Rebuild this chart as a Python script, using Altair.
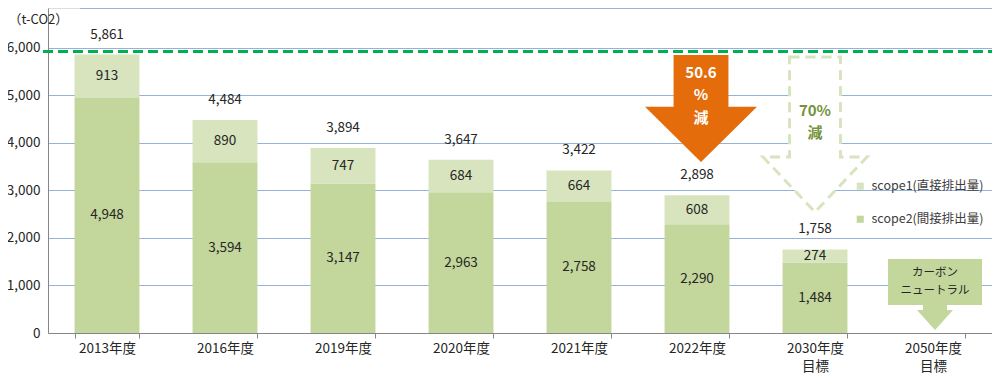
import altair as alt
import pandas as pd

# ---------------- data ----------------
categories = ["2013年度", "2016年度", "2019年度", "2020年度", "2021年度",
              "2022年度", "2030年度\n目標", "2050年度\n目標"]
scope1 = [913, 890, 747, 684, 664, 608, 274]
scope2 = [4948, 3594, 3147, 2963, 2758, 2290, 1484]
totals = [5861, 4484, 3894, 3647, 3422, 2898, 1758]
series_names = ["scope1(直接排出量)", "scope2(間接排出量)"]
series_colors = ["#d7e4bd", "#c3d69b"]
y_ticks = [0, 1000, 2000, 3000, 4000, 5000, 6000]
baseline_value = [5861]

# annotations (category, value of shape centre, value of first text line)
orange_arrow = {"cat": ["2022年度"], "y": [4726], "label": ["50.6\n%\n減"], "ly": [5474]}
dashed_arrow = {"cat": ["2030年度\n目標"], "y": [4179], "label": ["70%\n減"], "ly": [4674]}
callout = {"cat": ["2050年度\n目標"], "y": [811], "label": ["カーボン\nニュートラル"], "ly": [1263]}

FONT = "Noto Sans CJK JP"
GRID = "#95b3d7"
AXIS = "#868686"
W, H = 944, 325

rows = []
for c, s1, s2, t in zip(categories, scope1, scope2, totals):
    rows.append({"cat": c, "series": series_names[1], "lo": 0, "hi": s2, "mid": s2 / 2, "val": s2})
    rows.append({"cat": c, "series": series_names[0], "lo": s2, "hi": t, "mid": s2 + s1 / 2, "val": s1})
seg = pd.DataFrame(rows)
tot = pd.DataFrame({"cat": categories[:len(totals)], "total": totals})

xscale = alt.Scale(domain=categories, range=[0, W], paddingInner=0.45, paddingOuter=0.225)
yscale = alt.Scale(domain=[0, 6842], nice=False, zero=True)

X = alt.X("cat:N", scale=xscale, sort=categories,
          axis=alt.Axis(title=None, labelAngle=0, labelExpr="split(datum.label, '\\n')",
                        tickBand="extent", ticks=True, tickSize=5, tickColor=AXIS,
                        domainColor=AXIS, labelPadding=3, labelFontSize=13.5,
                        labelLineHeight=18, labelColor="#262626", labelFont=FONT, grid=False))

bars = alt.Chart(seg).mark_bar().encode(
    x=X,
    y=alt.Y("lo:Q", scale=yscale,
            axis=alt.Axis(values=y_ticks, format=",d", grid=True, gridColor=GRID,
                          ticks=False, domainColor=AXIS, labelPadding=8,
                          labelFontSize=13.5, labelColor="#262626", labelFont=FONT,
                          title="（t-CO2）", titleAngle=0, titleAlign="left",
                          titleBaseline="middle", titleX=-40, titleY=11,
                          titleFontSize=13, titleFontWeight="normal",
                          titleColor="#262626", titleFont=FONT)),
    y2="hi:Q",
    color=alt.Color("series:N",
                    scale=alt.Scale(domain=series_names, range=series_colors),
                    legend=alt.Legend(orient="none", legendX=806, legendY=172, title=None,
                                      symbolType="square", symbolSize=50,
                                      symbolStrokeWidth=0, labelFontSize=12.5,
                                      labelFont=FONT, labelColor="#404040",
                                      labelLimit=300, rowPadding=20, labelOffset=5)),
)

seg_text = alt.Chart(seg).mark_text(font=FONT, fontSize=13.5, color="#262626").encode(
    x=alt.X("cat:N", sort=categories), y="mid:Q", text=alt.Text("val:Q", format=",d"))

tot_text = alt.Chart(tot).mark_text(font=FONT, fontSize=13.5, color="#262626", dy=-20).encode(
    x=alt.X("cat:N", sort=categories), y="total:Q", text=alt.Text("total:Q", format=",d"))

top_rule = alt.Chart(pd.DataFrame({"k": [0]})).mark_rule(color=GRID, strokeWidth=1).encode(
    x=alt.value(32), x2=alt.value(W), y=alt.value(0.5))

base_line = alt.Chart(pd.DataFrame({"v": baseline_value})).mark_rule(
    color="#00b050", strokeWidth=3, strokeDash=[10, 5], yOffset=-3).encode(
    y="v:Q", x=alt.value(-5), x2=alt.value(W))

ORANGE_PATH = "M-0.49,-0.955L0.49,-0.955L0.49,-0.03L1,-0.03L0,0.955L-1,-0.03L-0.49,-0.03Z"
DASH_PATH = "M-0.329,-1L0.329,-1L0.329,0.29L0.671,0.29L0,1L-0.671,0.29L-0.329,0.29Z"
CALLOUT_PATH = ("M-1,-0.755L1,-0.755L1,0.223L0.255,0.223L0.255,0.33L0.383,0.33L0,0.755"
                "L-0.383,0.33L-0.255,0.33L-0.255,0.223L-1,0.223Z")

od = pd.DataFrame(orange_arrow)
dd = pd.DataFrame(dashed_arrow)
cd = pd.DataFrame(callout)

orange = alt.Chart(od).mark_point(shape=ORANGE_PATH, size=12544, filled=True,
                                  fill="#e46c0a", opacity=1, strokeWidth=0, xOffset=4).encode(
    x=alt.X("cat:N", sort=categories), y="y:Q")
orange_t = alt.Chart(od).mark_text(font=FONT, fontSize=15, fontWeight="bold", color="white",
                                   lineBreak="\n", lineHeight=22.5, xOffset=4).encode(
    x=alt.X("cat:N", sort=categories), y="ly:Q", text="label:N")

dashed = alt.Chart(dd).mark_point(shape=DASH_PATH, size=24025, filled=False, fill="white",
                                  fillOpacity=1, opacity=1, stroke="#d7e4bd", strokeWidth=3,
                                  strokeDash=[10, 6], xOffset=0).encode(
    x=alt.X("cat:N", sort=categories), y="y:Q")
dashed_t = alt.Chart(dd).mark_text(font=FONT, fontSize=15, fontWeight="bold", color="#76923c",
                                   lineBreak="\n", lineHeight=22).encode(
    x=alt.X("cat:N", sort=categories), y="ly:Q", text="label:N")

call = alt.Chart(cd).mark_point(shape=CALLOUT_PATH, size=8836, filled=True, fill="#c3d69b",
                                opacity=1, strokeWidth=0, xOffset=2).encode(
    x=alt.X("cat:N", sort=categories), y="y:Q")
call_t = alt.Chart(cd).mark_text(font=FONT, fontSize=11.5, color="#262626",
                                 lineBreak="\n", lineHeight=18, xOffset=2).encode(
    x=alt.X("cat:N", sort=categories), y="ly:Q", text="label:N")

chart = alt.layer(
    top_rule, bars, dashed, orange, call, base_line,
    seg_text, tot_text, orange_t, dashed_t, call_t
).properties(
    width=W, height=H,
    autosize=alt.AutoSizeParams(type="none"),
    padding={"left": 40, "top": 0, "right": 0, "bottom": 41},
).configure_view(strokeWidth=0).configure(background="white")

chart.save("out.html", embed_options={"renderer": "svg", "actions": False})
